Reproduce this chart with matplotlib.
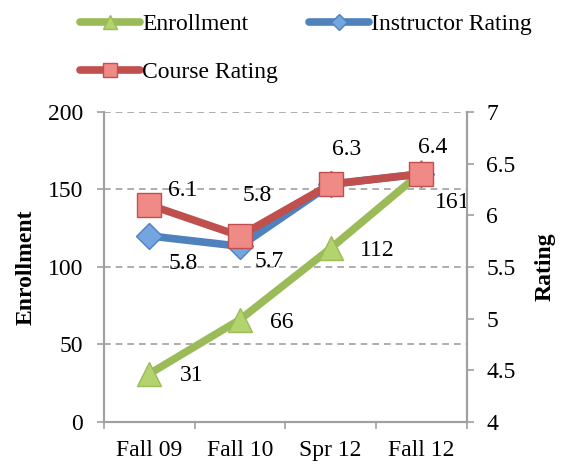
import numpy as np
from matplotlib import pyplot as plt

categories = ['Fall 09', 'Fall 10', 'Spr 12', 'Fall 12']
enrollment = [31, 66, 112, 161]
instructor_rating = [5.8, 5.7, 6.3, 6.4]
course_rating = [6.1, 5.8, 6.3, 6.4]

# label offsets in pixels (dx, dy)
enroll_off = [(43, -2), (42, -3), (47, -2), (31, -30)]
course_off = [(34, 14), (17, 40), (16, 35), (11, 26)]
instr_off = [(34, -28), (29, -15)]

plt.rcParams['font.family'] = ['Liberation Serif', 'DejaVu Serif']
green, blue, red = '#9BBB59', '#4F81BD', '#C0504D'
grey = '#A0A0A0'

fig = plt.figure(figsize=(5.61, 4.65), dpi=100)
ax1 = fig.add_axes([0.185, 0.0925, 0.647, 0.667])
ax2 = ax1.twinx()
x = np.arange(len(categories))

l1, = ax1.plot(x, enrollment, color=green, lw=5.5, marker='^', ms=17,
               mfc='#B3D36E', mec=green, mew=1, solid_capstyle='round')
l2, = ax2.plot(x, instructor_rating, color=blue, lw=5.5, marker='D', ms=13,
               mfc='#74A5E0', mec=blue, mew=1, solid_capstyle='round')
l3, = ax2.plot(x, course_rating, color=red, lw=5.5, marker='s', ms=17,
               mfc='#F08A86', mec=red, mew=1, solid_capstyle='round')

fs = 17
for xi, v, (dx, dy) in zip(x, enrollment, enroll_off):
    ax1.annotate(str(v), (xi, v), xytext=(dx * 0.72, dy * 0.72), textcoords='offset points',
                 ha='center', va='center', fontsize=fs)
for xi, v, (dx, dy) in zip(x, course_rating, course_off):
    ax2.annotate(str(v), (xi, v), xytext=(dx * 0.72, dy * 0.72), textcoords='offset points',
                 ha='center', va='center', fontsize=fs)
for xi, v, (dx, dy) in zip(x, instructor_rating, instr_off):
    ax2.annotate(str(v), (xi, v), xytext=(dx * 0.72, dy * 0.72), textcoords='offset points',
                 ha='center', va='center', fontsize=fs)

ax1.set_xlim(-0.5, 3.5)
ax1.set_ylim(0, 200)
ax1.set_yticks([0, 50, 100, 150, 200])
ax2.set_ylim(4, 7)
r_ticks = [4, 4.5, 5, 5.5, 6, 6.5, 7]
ax2.set_yticks(r_ticks)
ax2.set_yticklabels([f'{t:g}' for t in r_ticks])
ax1.set_xticks(x)
ax1.set_xticklabels(categories)
ax1.set_xticks(np.arange(-0.5, 4, 1), minor=True)

ax1.grid(axis='y', color=grey, ls=(0, (4, 3)), lw=1.2)
ax1.set_axisbelow(True)
for ax in (ax1, ax2):
    ax.spines['top'].set_visible(False)
    for s in ('left', 'right', 'bottom'):
        ax.spines[s].set_color(grey)
        ax.spines[s].set_linewidth(1.5)
    ax.tick_params(colors=grey, labelcolor='black', labelsize=fs, width=1.2, length=5, pad=10)
ax2.tick_params(pad=9)
ax1.tick_params(axis='x', which='major', length=0, pad=13)
ax1.tick_params(axis='x', which='minor', length=5, width=1.2, colors=grey)

ax1.set_ylabel('Enrollment', fontsize=fs, fontweight='bold', labelpad=8)
ax2.set_ylabel('Rating', fontsize=fs, fontweight='bold', labelpad=14)

fig.legend([l1, l3, l2], ['Enrollment', 'Course Rating', 'Instructor Rating'],
           ncol=2, loc='upper left', bbox_to_anchor=(0.104, 1.017), frameon=False,
           fontsize=fs, handlelength=2.55, labelspacing=1.13, columnspacing=1.3,
           handletextpad=0.1, markerscale=0.6)

fig.savefig('out.png', dpi=100)
